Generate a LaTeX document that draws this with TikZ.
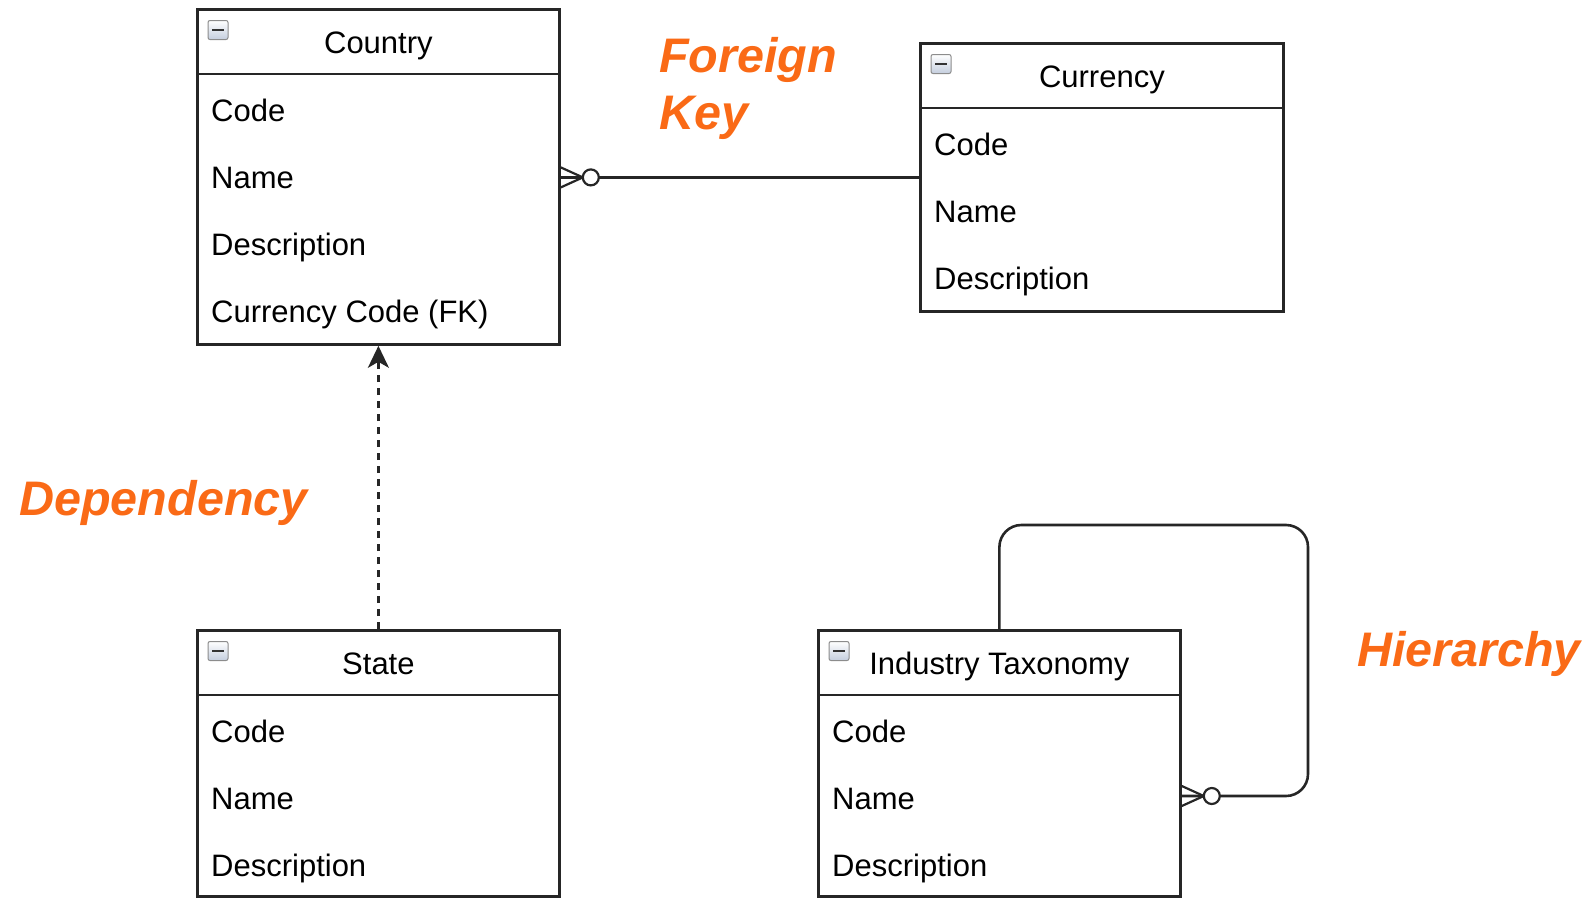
\documentclass[tikz,border=0pt]{standalone}
\usepackage{fontspec}
\setmainfont{Liberation Sans}
\usetikzlibrary{positioning,arrows.meta,calc}

\definecolor{tagorange}{RGB}{250,106,22}
\definecolor{iconblue}{RGB}{196,206,222}

\tikzset{
	entity/.style={draw=black!85, line width=2.8pt, rectangle, inner sep=0pt, anchor=north west},
	headline/.style={draw=black!85, line width=2.8pt},
	title/.style={font=\fontsize{31}{37}\selectfont, inner sep=0pt, anchor=base},
	field/.style={font=\fontsize{31}{37}\selectfont, anchor=base west, inner sep=0pt},
	icon/.style={draw=black!45, line width=1pt, rounded corners=2pt, minimum width=20pt, minimum height=19pt,
		inner sep=0pt, top color=white, bottom color=iconblue,
		path picture={\draw[line width=2.6pt, black!80] ([xshift=4pt]path picture bounding box.west) -- ([xshift=-4pt]path picture bounding box.east);}},
	link/.style={draw=black!85, line width=2.6pt},
	crow/.style={draw=black!85, line width=2.2pt},
	tag/.style={font=\fontsize{48.5}{57}\selectfont\bfseries\itshape, text=tagorange, inner sep=0pt, align=left},
}

\begin{document}
\begin{tikzpicture}[x=1pt, y=-1pt]
	\useasboundingbox (0,0) rectangle (1593,897);
	% tables
	\node[entity, minimum width=362pt, minimum height=335pt] (country) at (196,8) {};
	\node[entity, minimum width=363pt, minimum height=268pt] (currency) at (919,42) {};
	\node[entity, minimum width=362pt, minimum height=266pt] (state) at (196,629) {};
	\node[entity, minimum width=362pt, minimum height=266pt] (industry) at (817,629) {};

	\foreach \t/\name in {country/Country, currency/Currency, state/State, industry/Industry Taxonomy} {
		\draw[headline] ($(\t.north west)+(0,66)$) -- ($(\t.north east)+(0,66)$);
		\node[icon] (\t-icon) at ($(\t.north west)+(22,22)$) {};
		\node[title] (\t-title) at ($(\t.north)+(0,45)$) {\name};
	}

	\foreach \f [count=\i] in {Code, Name, Description, Currency Code (FK)}
		\node[field] (country-f\i) at ($(country.north west)+(15,46+67*\i)$) {\f};
	\foreach \t in {currency, state, industry}
		\foreach \f [count=\i] in {Code, Name, Description}
			\node[field] (\t-f\i) at ($(\t.north west)+(15,46+67*\i)$) {\f};

	% foreign key
	\coordinate (fk) at (country.east |- currency.west);
	\draw[link] (fk) -- (currency.west);
	\draw[crow] ($(fk)+(0,-10)$) -- ($(fk)+(22,0)$) -- ($(fk)+(0,10)$);
	\draw[crow, fill=white] ($(fk)+(30,0)$) circle (8pt);

	% dependency
	\draw[link, dash pattern=on 7pt off 6pt, -{Stealth[length=22pt, width=21pt, inset=6pt]}] (state.north) -- (country.south);

	% hierarchy
	\coordinate (loop) at (1308,525);
	\coordinate (hk) at ($(industry.north east)+(0,167)$);
	\draw[link, rounded corners=22pt] (industry.north) |- (loop) |- (hk);
	\draw[crow] ($(hk)+(0,-10)$) -- ($(hk)+(22,0)$) -- ($(hk)+(0,10)$);
	\draw[crow, fill=white] ($(hk)+(30,0)$) circle (8pt);

	% labels
	\node[tag, anchor=north west] (fk-tag) at (659,37) {Foreign\\Key};
	\node[tag, anchor=base west] (dep-tag) at (19,515) {Dependency};
	\node[tag, anchor=base west] (hier-tag) at (1357,666) {Hierarchy};
\end{tikzpicture}
\end{document}
